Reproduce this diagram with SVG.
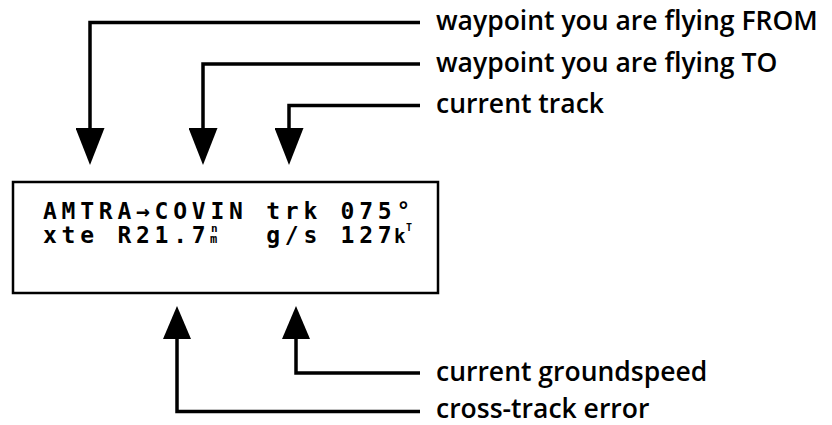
<svg xmlns="http://www.w3.org/2000/svg" width="832" height="425" viewBox="0 0 832 425">
  <style>
    .label { font-family: "Open Sans", "Noto Sans", "Liberation Sans", sans-serif; font-size: 26.5px; font-weight: 600; fill: #000; }
    .lcd { font-family: "DejaVu Sans Mono", "Liberation Mono", monospace; font-size: 23px; font-weight: bold; fill: #000; }
    .wire { fill: none; stroke: #000; stroke-width: 3.5; stroke-linejoin: miter; stroke-linecap: butt; }
    .frame { fill: #fff; stroke: #000; stroke-width: 2.5; }
  </style>
  <defs>
    <marker id="head-long" viewBox="0 0 37 29" refX="0" refY="14.5" markerWidth="37" markerHeight="29" markerUnits="userSpaceOnUse" orient="auto">
      <path d="M0,0 L37,14.5 L0,29 Z" fill="#000"/>
    </marker>
    <marker id="head-short" viewBox="0 0 33 28" refX="0" refY="14" markerWidth="33" markerHeight="28" markerUnits="userSpaceOnUse" orient="auto">
      <path d="M0,0 L33,14 L0,28 Z" fill="#000"/>
    </marker>
  </defs>

  <rect width="832" height="425" fill="#fff"/>

  <!-- leader lines from each caption to the display -->
  <g id="connectors">
    <path class="wire" d="M420,22.5 H90 V128" marker-end="url(#head-long)"/>
    <path class="wire" d="M420,64 H203 V128" marker-end="url(#head-long)"/>
    <path class="wire" d="M420,105.5 H289 V128" marker-end="url(#head-long)"/>
    <path class="wire" d="M420,373 H296 V339" marker-end="url(#head-short)"/>
    <path class="wire" d="M420,411.5 H177 V339" marker-end="url(#head-short)"/>
  </g>

  <!-- two-line LCD readout, one character cell every 18.6px -->
  <g id="display">
    <rect class="frame" x="13" y="182" width="425" height="111"/>
    <text class="lcd" y="219" x="43 61.6 80.2 98.8 117.4 136 154.6 173.2 191.8 210.4 229 247.6 266.2 284.8 303.4 322 340.6 359.2 377.8 396.4">AMTRA→COVIN trk 075°</text>
    <text class="lcd" y="243" x="43 61.6 80.2 98.8 117.4 136 154.6 173.2 191.8">xte R21.7<tspan font-size="11" x="211" y="232">n</tspan><tspan font-size="12" x="210" y="243">m</tspan></text>
    <text class="lcd" y="243" x="266.2 284.8 303.4">g/s</text>
    <text class="lcd" y="243" x="340.6 359.2 377.8">127<tspan font-size="19" x="394" y="243">k</tspan><tspan font-size="10" x="406" y="231">T</tspan></text>
  </g>

  <g id="label-from"><text class="label" x="436" y="30">waypoint you are flying FROM</text></g>
  <g id="label-to"><text class="label" x="436" y="71.5">waypoint you are flying TO</text></g>
  <g id="label-track"><text class="label" x="436" y="113">current track</text></g>
  <g id="label-groundspeed"><text class="label" x="436" y="380.5">current groundspeed</text></g>
  <g id="label-xte"><text class="label" x="436" y="418">cross-track error</text></g>
</svg>
